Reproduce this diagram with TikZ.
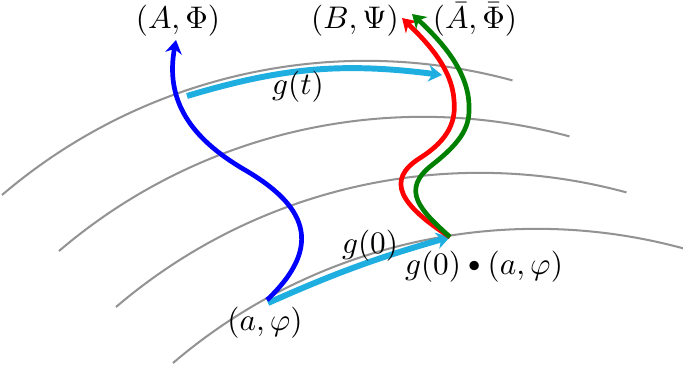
\documentclass[tikz,border=0pt]{standalone}
\usepackage{amsmath,amssymb}
\usetikzlibrary{arrows.meta, calc}
\definecolor{flowcyan}{RGB}{30,174,224}
\definecolor{pathgreen}{RGB}{0,128,0}

\begin{document}
\begin{tikzpicture}[x=0.01125cm, y=0.01125cm,
        >={Stealth[length=4.3pt, width=5.3pt, inset=1.4pt]},
        orbit/.style={draw=gray!85, line width=0.65pt},
        curve/.style={->, line width=1.5pt},
        act/.style={->, draw=flowcyan, line width=1.9pt},
        lbl/.style={anchor=base, inner sep=0pt},
    ]
    \useasboundingbox (0,0) rectangle (683,367);

    % ---- Orbits: one arc, shifted down the picture ----
    \foreach \k in {0,...,3}
        \draw[orbit] ($(2,172)+\k*(57,-56)$) arc[start angle=130.5, end angle=74.8, radius=560];

    % ---- Points ----
    \coordinate (start) at (267,67);
    \coordinate (moved) at (450,130);
    \coordinate (gtstart) at (187,271);
    \coordinate (gtend) at (442,292);
    \coordinate (g0start) at (268,64);

    % ---- Group action arrows ----
    \draw[act] (gtstart) to[bend left=12] (gtend);
    \draw[act] (g0start) to[bend left=4] (moved);

    % ---- Paths up to the end points ----
    \draw[curve, draw=blue] (start) .. controls (325,122) and (305,162) .. (245,197)
        .. controls (190,229) and (165,267) .. (176,327) coordinate (Atip);
    \draw[curve, draw=red] (moved) .. controls (400,162) and (385,187) .. (420,209)
        .. controls (450,228) and (456,247) .. (454,267)
        .. controls (452,297) and (430,322) .. (402,349) coordinate (Btip);
    \draw[curve, draw=pathgreen] (moved) .. controls (420,157) and (400,177) .. (432,202)
        .. controls (464,227) and (470,242) .. (469,262)
        .. controls (468,297) and (440,327) .. (412,353) coordinate (Abartip);

    % ---- Labels ----
    \node[lbl] (labA) at (178,339) {$(A,\Phi)$};
    \node[lbl] (labB) at (355,339) {$(B,\Psi)$};
    \node[lbl] (labAbar) at (475,339) {$(\bar{A},\bar{\Phi})$};
    \node[lbl] (labgt) at (298,273) {$g(t)$};
    \node[lbl] (labgzero) at (370,114) {$g(0)$};
    \node[lbl] (labmoved) at (484,93)
        {$g(0)\mathbin{\vcenter{\hbox{$\scriptstyle\bullet$}}}(a,\varphi)$};
    \node[lbl] (labstart) at (265,37) {$(a,\varphi)$};
\end{tikzpicture}
\end{document}
